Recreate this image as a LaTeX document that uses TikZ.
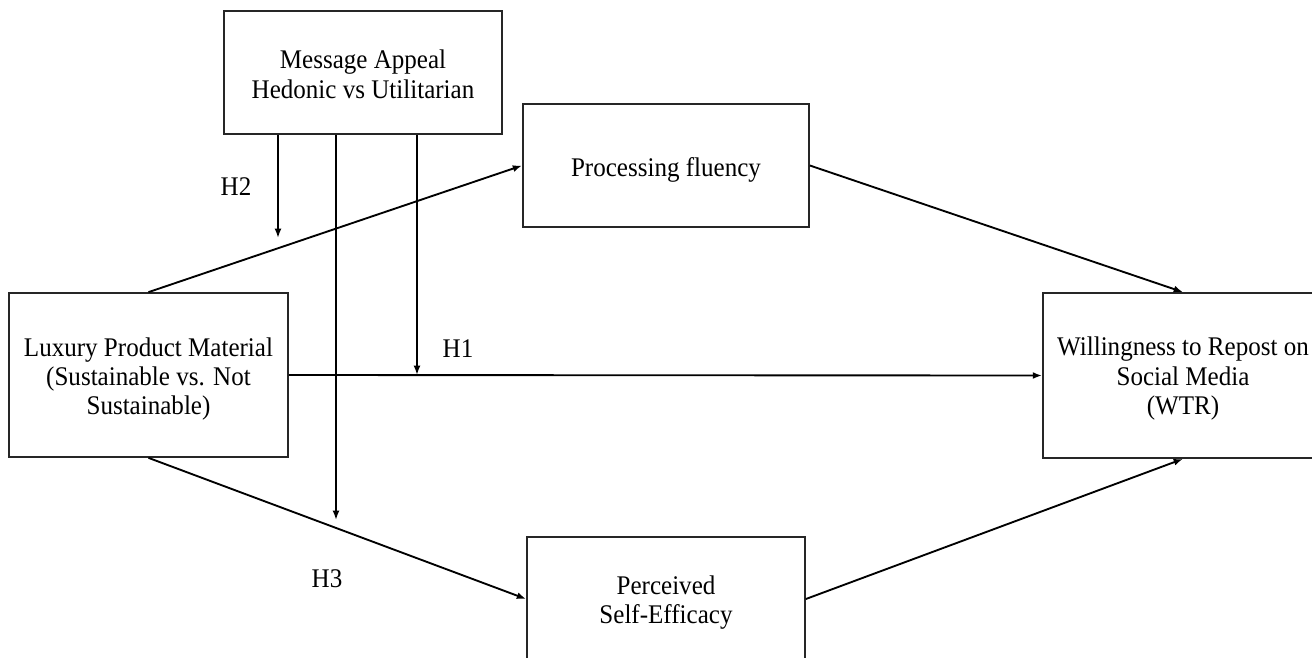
\documentclass[tikz,border=0pt]{standalone}
\usepackage{fontspec}
\setmainfont{Liberation Serif}[FakeStretch=0.93]
\usetikzlibrary{arrows.meta}
\begin{document}
\begin{tikzpicture}[x=0.75pt,y=-0.75pt,
  box/.style={draw=black!85, line width=1.3pt, inner sep=0pt},
  lbl/.style={inner sep=0pt, align=center, font=\fontsize{20.2}{22.1}\selectfont},
  conn/.style={line width=1.4pt, -{Latex[length=7pt,width=5.2pt]}}]
\useasboundingbox (0,0) rectangle (1312,657);
\clip (0,0) rectangle (1312,657);
\fill[white] (0,0) rectangle (1312,657);
\node[box, minimum width=278*0.75pt, minimum height=123*0.75pt,
  label={[lbl,yshift=-1.5pt]center:Message Appeal\\Hedonic vs Utilitarian}] (msg) at (363,72.5) {};
\node[box, minimum width=286*0.75pt, minimum height=123*0.75pt,
  label={[lbl,yshift=-3.5pt]center:Processing fluency}] (proc) at (666,165.5) {};
\node[box, minimum width=279*0.75pt, minimum height=164*0.75pt,
  label={[lbl,yshift=-3pt]center:Luxury Product Material\\(Sustainable vs. Not\\Sustainable)}] (lux) at (148.5,375) {};
\node[box, minimum width=280*0.75pt, minimum height=165*0.75pt,
  label={[lbl,yshift=-2.5pt]center:Willingness to Repost on\\Social Media\\(WTR)}] (wtr) at (1183,375.5) {};
\node[box, minimum width=278*0.75pt, minimum height=124*0.75pt,
  label={[lbl,yshift=-2.5pt]center:Perceived\\Self-Efficacy}] (perc) at (666,599) {};
\coordinate (h2end) at (278,238);
\coordinate (h3end) at (336,520);
\draw[conn] (lux.north) -- (proc.west);
\draw[conn] (proc.east) -- (wtr.north);
\draw[conn] (lux.east) -- (wtr.west);
\draw[conn] (lux.south) -- (perc.west);
\draw[conn] (perc.east) -- (wtr.south);
\draw[conn] (h2end |- msg.south) -- (h2end);
\draw[conn] (h3end |- msg.south) -- (h3end);
\draw[conn] (417,0 |- msg.south) -- (417,0 |- lux.east);
\node[lbl] (h2) at (236,187) {H2};
\node[lbl] (h1) at (458,349) {H1};
\node[lbl] (h3) at (327,579) {H3};
\end{tikzpicture}
\end{document}
